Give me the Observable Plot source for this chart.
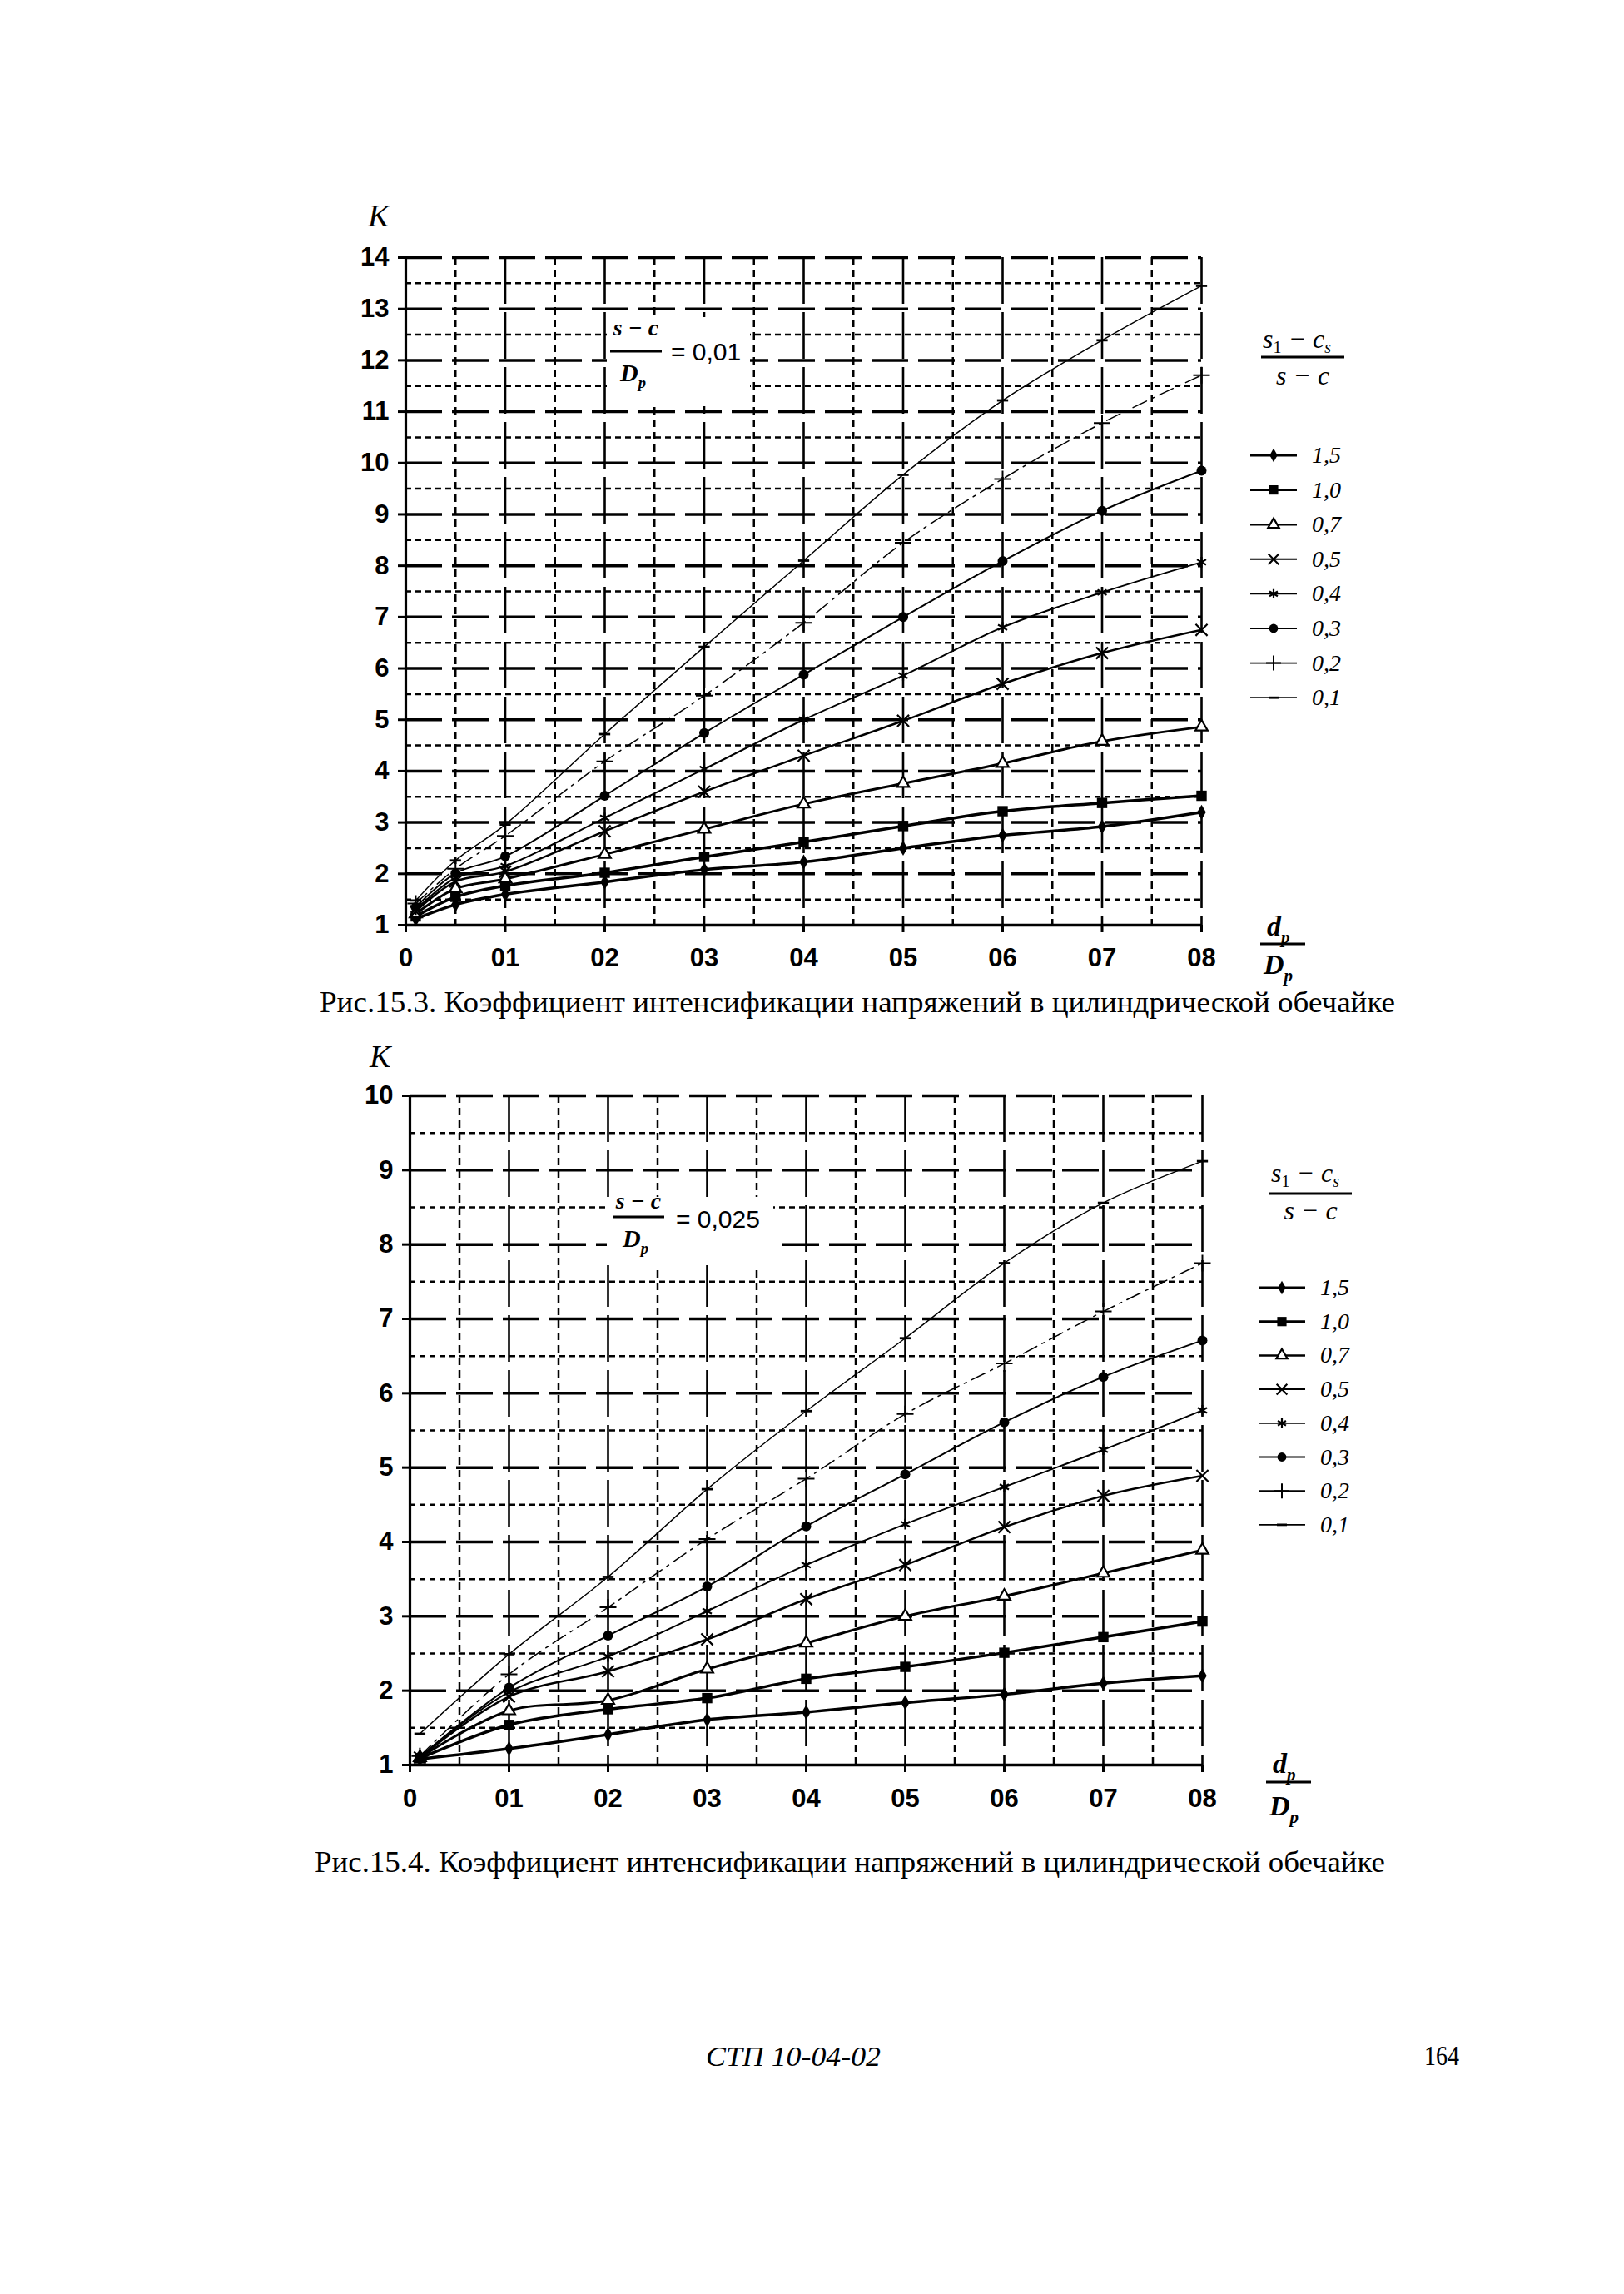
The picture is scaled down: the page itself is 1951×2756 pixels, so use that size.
<!DOCTYPE html>
<html><head><meta charset="utf-8">
<script src="https://cdn.jsdelivr.net/npm/d3@7"></script>
<script src="https://cdn.jsdelivr.net/npm/@observablehq/plot@0.6"></script>
<style>
html,body{margin:0;padding:0;background:#fff;}
#page{position:relative;width:1951px;height:2756px;background:#fff;overflow:hidden;}
.chart{position:absolute;left:0;}
#overlay{position:absolute;left:0;top:0;pointer-events:none;}
</style></head><body><div id="page"></div>
<script>
// ---------- data ----------
const seriesLabels = ["1,5","1,0","0,7","0,5","0,4","0,3","0,2","0,1"];
const xTickValues = [0, 0.1, 0.2, 0.3, 0.4, 0.5, 0.6, 0.7, 0.8];
const xTickLabels = ["0","01","02","03","04","05","06","07","08"];
const xHalfValues = [0.05, 0.15, 0.25, 0.35, 0.45, 0.55, 0.65, 0.75];
const yTicks1 = [1,2,3,4,5,6,7,8,9,10,11,12,13,14];
const yHalf1 = [1.5,2.5,3.5,4.5,5.5,6.5,7.5,8.5,9.5,10.5,11.5,12.5,13.5];
const yTicks2 = [1,2,3,4,5,6,7,8,9,10];
const yHalf2 = [1.5,2.5,3.5,4.5,5.5,6.5,7.5,8.5,9.5];

// Fig 15.3  (s-c)/Dp = 0,01
const dr1   = [0.01, 0.05, 0.1, 0.2, 0.3, 0.4, 0.5, 0.6, 0.7, 0.8];
const k1_15 = [1.12, 1.40, 1.60, 1.84, 2.08, 2.23, 2.50, 2.75, 2.92, 3.20];
const k1_10 = [1.17, 1.55, 1.77, 2.02, 2.33, 2.62, 2.93, 3.22, 3.38, 3.52];
const k1_07 = [1.22, 1.71, 1.90, 2.38, 2.87, 3.36, 3.76, 4.15, 4.58, 4.86];
const k1_05 = [1.27, 1.85, 2.04, 2.83, 3.60, 4.30, 4.98, 5.70, 6.30, 6.75];
const k1_04 = [1.30, 1.92, 2.15, 3.09, 4.04, 5.00, 5.86, 6.80, 7.48, 8.07];
const k1_03 = [1.35, 2.01, 2.34, 3.52, 4.74, 5.88, 7.00, 8.09, 9.07, 9.85];
const k1_02 = [1.42, 2.10, 2.74, 4.19, 5.47, 6.89, 8.45, 9.69, 10.78, 11.71];
const k1_01 = [1.48, 2.26, 2.96, 4.72, 6.42, 8.10, 9.77, 11.22, 12.39, 13.45];

// Fig 15.4  (s-c)/Dp = 0,025
const dr2   = [0.01, 0.1, 0.2, 0.3, 0.4, 0.5, 0.6, 0.7, 0.8];
const k2_15 = [1.08, 1.22, 1.41, 1.61, 1.71, 1.84, 1.95, 2.10, 2.20];
const k2_10 = [1.09, 1.54, 1.75, 1.90, 2.16, 2.32, 2.51, 2.72, 2.93];
const k2_07 = [1.10, 1.73, 1.87, 2.29, 2.64, 3.00, 3.27, 3.58, 3.89];
const k2_05 = [1.10, 1.92, 2.26, 2.69, 3.23, 3.69, 4.20, 4.62, 4.89];
const k2_04 = [1.11, 1.98, 2.46, 3.07, 3.69, 4.24, 4.74, 5.24, 5.77];
const k2_03 = [1.11, 2.04, 2.74, 3.40, 4.21, 4.91, 5.61, 6.22, 6.71];
const k2_02 = [1.12, 2.22, 3.12, 4.04, 4.85, 5.72, 6.40, 7.10, 7.75];
const k2_01 = [1.42, 2.49, 3.53, 4.71, 5.76, 6.74, 7.75, 8.56, 9.12];

// ---------- styles ----------
const dashSymbol = {draw(ctx, size){ const w = Math.sqrt(size) * 0.75; ctx.moveTo(-w,-1.4); ctx.lineTo(w,-1.4); ctx.lineTo(w,1.4); ctx.lineTo(-w,1.4); ctx.closePath(); }};
const styles = [
  {sw:3.5, dash:null, sym:"diamond", d3sym:d3.symbolDiamond, r:5.5, fill:"black", stroke:"none"},
  {sw:3.5, dash:null, sym:"square", d3sym:d3.symbolSquare, r:7, fill:"black", stroke:"none"},
  {sw:3, dash:null, sym:"triangle2", d3sym:d3.symbolTriangle2, r:7, fill:"white", stroke:"black", ssw:2.2},
  {sw:2.5, dash:null, sym:"times", d3sym:d3.symbolTimes, r:6.5, fill:"none", stroke:"black", ssw:2.2},
  {sw:2, dash:null, sym:"asterisk", d3sym:d3.symbolAsterisk, r:6, fill:"none", stroke:"black", ssw:2.2},
  {sw:2, dash:null, sym:"circle", d3sym:d3.symbolCircle, r:6, fill:"black", stroke:"none"},
  {sw:1.5, dash:"18,7,3,7", sym:"plus", d3sym:d3.symbolPlus, r:6.5, fill:"none", stroke:"black", ssw:2},
  {sw:1.5, dash:null, sym:dashSymbol, d3sym:dashSymbol, r:5, fill:"black", stroke:"none"}
];

const tickFont = '"Liberation Sans", Arial, sans-serif';
const xLabelOf = new Map(xTickValues.map((v,i)=>[v, xTickLabels[i]]));

function buildRows(xs, series){
  const rows = [];
  series.forEach((vals, si) => vals.forEach((k, i) => rows.push({s: seriesLabels[si], x: xs[i], k})));
  return rows;
}

function makeChart(cfg){
  const rows = buildRows(cfg.xs, cfg.series);
  const marks = [
    Plot.ruleX(xHalfValues, {stroke:"black", strokeWidth:2.5, strokeDasharray:"9,6"}),
    Plot.ruleY(cfg.yHalf, {stroke:"black", strokeWidth:2.5, strokeDasharray:"7,5"}),
    Plot.ruleY(cfg.yTicks.slice(1), {stroke:"black", strokeWidth:3.5, strokeDasharray:"44,12"}),
    Plot.ruleX(xTickValues.slice(1), {stroke:"black", strokeWidth:2.6, strokeDasharray:"56,10"}),
    Plot.axisY(cfg.yTicks, {anchor:"left", label:null, tickSize:9, tickPadding:11, fontSize:31, fontWeight:"bold", fontFamily:tickFont, strokeWidth:3, tickFormat: d => String(d)}),
    Plot.axisX(xTickValues, {anchor:"bottom", label:null, tickSize:9, tickPadding:cfg.xPad, fontSize:31, fontWeight:"bold", fontFamily:tickFont, strokeWidth:3, tickFormat: d => xLabelOf.get(d)}),
    Plot.ruleX([0], {stroke:"black", strokeWidth:3.2}),
    Plot.ruleY([cfg.yTicks[0]], {stroke:"black", strokeWidth:3.5})
  ];
  seriesLabels.forEach((lab, si) => {
    const st = styles[si];
    const sub = rows.filter(d => d.s === lab);
    marks.push(Plot.line(sub, {x:"x", y:"k", curve:"catmull-rom", stroke:"black", strokeWidth:st.sw, strokeDasharray: st.dash || undefined}));
  });
  seriesLabels.forEach((lab, si) => {
    const st = styles[si];
    const sub = rows.filter(d => d.s === lab);
    marks.push(Plot.dot(sub, {x:"x", y:"k", symbol: st.sym, r: st.r, fill: st.fill, stroke: st.stroke, strokeWidth: st.ssw || 1}));
  });
  const plot = Plot.plot({
    width:1951, height:cfg.height,
    marginTop:cfg.mTop, marginBottom:cfg.mBottom, marginLeft:cfg.mLeft, marginRight:cfg.mRight,
    x:{domain:[0,0.8], label:null}, y:{domain:cfg.yDomain, label:null},
    style:{background:"transparent", overflow:"visible", fontFamily:tickFont, color:"black"},
    marks
  });
  plot.setAttribute("class","chart");
  plot.style.top = cfg.top + "px";
  document.getElementById("page").appendChild(plot);
}

// chart 1: frame x 487..1443, y 309..1111
makeChart({xs:dr1, series:[k1_15,k1_10,k1_07,k1_05,k1_04,k1_03,k1_02,k1_01], yTicks:yTicks1, yHalf:yHalf1, yDomain:[1,14],
  top:200, height:981, mTop:109, mBottom:70, mLeft:487, mRight:508, xPad:18});
// chart 2: frame x 492..1444, y 1316..2120
makeChart({xs:dr2, series:[k2_15,k2_10,k2_07,k2_05,k2_04,k2_03,k2_02,k2_01], yTicks:yTicks2, yHalf:yHalf2, yDomain:[1,10],
  top:1250, height:950, mTop:66, mBottom:80, mLeft:492, mRight:507, xPad:19});

// ---------- overlay texts ----------
const serif = '"Liberation Serif", "Times New Roman", serif';
const svg = d3.select("#page").append("svg").attr("id","overlay").attr("width",1951).attr("height",2756);

function txt(x, y, s, o = {}){
  const t = svg.append("text").attr("x", x).attr("y", y).attr("font-family", o.family || serif)
    .attr("font-size", o.size || 30).attr("font-style", o.style || "normal").attr("font-weight", o.weight || "normal")
    .attr("text-anchor", o.anchor || "start").attr("fill","black");
  if (o.len) t.attr("textLength", o.len).attr("lengthAdjust","spacingAndGlyphs");
  t.text(s);
  return t;
}
function sub(x, y, main, subs, o){
  const t = svg.append("text").attr("x", x).attr("y", y).attr("font-family", serif)
    .attr("font-size", o.size).attr("font-style","italic").attr("font-weight", o.weight || "bold").attr("fill","black");
  t.append("tspan").text(main);
  t.append("tspan").attr("dy", o.size*0.25).attr("font-size", o.size*0.62).text(subs);
  return t;
}
function bar(x1, x2, y, w = 2.6){
  svg.append("line").attr("x1",x1).attr("x2",x2).attr("y1",y).attr("y2",y).attr("stroke","black").attr("stroke-width",w);
}

// K labels
txt(442, 272, "K", {size:38, style:"italic"});
txt(444, 1282, "K", {size:38, style:"italic"});

// formula boxes
function formula(bx, by, bw, bh, fx, yNum, yBar, yDen, eqX, eqY, value){
  svg.append("rect").attr("x",bx).attr("y",by).attr("width",bw).attr("height",bh).attr("fill","white");
  txt(fx + 31, yNum, "s − c", {size:28, style:"italic", weight:"bold", anchor:"middle"});
  bar(fx, fx + 62, yBar, 3);
  sub(fx + 12, yDen, "D", "р", {size:30});
  txt(eqX, eqY, "= " + value, {size:30, family: tickFont});
}
formula(729, 381, 172, 107, 733, 403, 422, 458, 806, 433, "0,01");
formula(729, 1438, 200, 82, 736, 1452, 1462, 1498, 812, 1475, "0,025");

// x-axis label d/D
function dLabel(x, yd, yb, yD){
  sub(x + 8, yd, "d", "р", {size:34});
  bar(x, x + 54, yb, 3);
  sub(x + 4, yD, "D", "р", {size:34});
}
dLabel(1514, 1124, 1134, 1170);
dLabel(1521, 2130, 2141, 2181);

// legends
function legend(titleY, barY, denY, barX1, barX2, lx1, lx2, textX, itemY0, step){
  const t = svg.append("text").attr("x", barX1 + 2).attr("y", titleY).attr("font-family", serif).attr("font-size", 32).attr("font-style","italic").attr("fill","black");
  t.append("tspan").text("s");
  t.append("tspan").attr("dy", 6).attr("font-size", 20).attr("font-style","normal").text("1");
  t.append("tspan").attr("dy", -6).text(" − c");
  t.append("tspan").attr("dy", 6).attr("font-size", 20).text("s");
  bar(barX1, barX2, barY, 2.8);
  txt((barX1 + barX2)/2, denY, "s − c", {size:32, style:"italic", anchor:"middle"});
  seriesLabels.forEach((lab, i) => {
    const st = styles[i];
    const y = itemY0 + i * step;
    svg.append("line").attr("x1", lx1).attr("x2", lx2).attr("y1", y).attr("y2", y).attr("stroke","black").attr("stroke-width", Math.max(1.8, st.sw - 0.5));
    const cx = (lx1 + lx2) / 2;
    const size = Math.PI * Math.pow(st.r * 0.9, 2);
    svg.append("path").attr("d", d3.symbol().type(st.d3sym).size(size)()).attr("transform", `translate(${cx},${y})`)
      .attr("fill", st.fill).attr("stroke", st.stroke).attr("stroke-width", st.ssw || 1);
    txt(textX, y + 9, lab, {size:28, style:"italic"});
  });
}
legend(418, 429, 462, 1515, 1615, 1502, 1558, 1576, 547, 41.6);
legend(1420, 1434, 1465, 1525, 1624, 1512, 1568, 1586, 1547, 40.7);

// captions
txt(384, 1216, "Рис.15.3. Коэффициент интенсификации напряжений в цилиндрической обечайке", {size:36, len:1292});
txt(378, 2249, "Рис.15.4. Коэффициент интенсификации напряжений в цилиндрической обечайке", {size:36, len:1286});

// footer
txt(848, 2482, "СТП 10-04-02", {size:33, style:"italic", len:210});
txt(1711, 2481, "164", {size:33, len:42});
</script></body></html>
